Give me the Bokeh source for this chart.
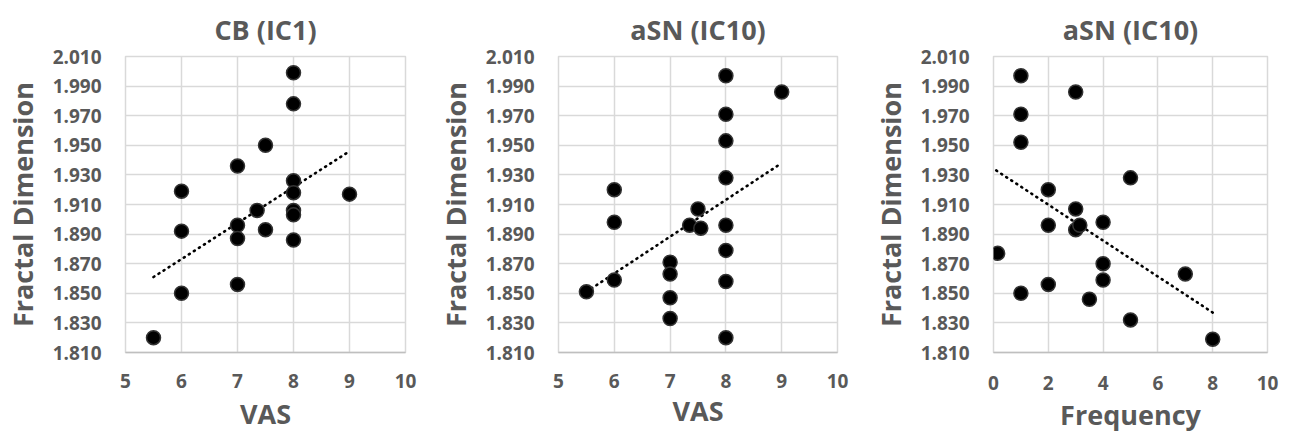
from bokeh.plotting import figure
from bokeh.layouts import row
from bokeh.models import Range1d, FixedTicker, NumeralTickFormatter
from bokeh.embed import file_html
from bokeh.resources import INLINE

# ---------------- data ----------------
y_ticks = [1.81, 1.83, 1.85, 1.87, 1.89, 1.91, 1.93, 1.95, 1.97, 1.99, 2.01]
vas_ticks = [5, 6, 7, 8, 9, 10]
freq_ticks = [0, 2, 4, 6, 8, 10]

titles = ["CB (IC1)", "aSN (IC10)", "aSN (IC10)"]
xlabels = ["VAS", "VAS", "Frequency"]

x1 = [8, 8, 7.5, 7, 6, 8, 8, 9, 7.35, 8, 8, 7, 6, 7.5, 7, 8, 7, 6, 5.5]
y1 = [1.999, 1.978, 1.950, 1.936, 1.919, 1.926, 1.918, 1.917, 1.906, 1.906,
      1.903, 1.896, 1.892, 1.893, 1.887, 1.886, 1.856, 1.850, 1.820]
trend1_x = [5.5, 9]
trend1_y = [1.861, 1.946]

x2 = [8, 9, 8, 8, 8, 6, 6, 7.5, 7.35, 7.55, 8, 8, 7, 7, 6, 8, 7, 5.5, 7, 8]
y2 = [1.997, 1.986, 1.971, 1.953, 1.928, 1.920, 1.898, 1.907, 1.896, 1.894,
      1.896, 1.879, 1.871, 1.863, 1.859, 1.858, 1.847, 1.851, 1.833, 1.820]
trend2_x = [5.5, 9]
trend2_y = [1.851, 1.938]

x3 = [1, 3, 1, 1, 5, 2, 3, 2, 3, 3.15, 4, 0.15, 4, 4, 7, 2, 1, 3.5, 5, 8]
y3 = [1.997, 1.986, 1.971, 1.952, 1.928, 1.920, 1.907, 1.896, 1.893, 1.896,
      1.898, 1.877, 1.870, 1.859, 1.863, 1.856, 1.850, 1.846, 1.832, 1.819]
trend3_x = [0.1, 8]
trend3_y = [1.933, 1.837]

FONT = "Open Sans"
TXT = "#595959"
GRID = "#d9d9d9"
H = 435


def panel(title, xlabel, xs, ys, tx, ty, xticks, xr, width, left, top, frame_h,
          frame_w, tick_stand, lab_stand):
    right = width - left - frame_w
    bottom = H - top - frame_h
    p = figure(width=width, height=H, output_backend="svg", toolbar_location=None,
               x_range=Range1d(xr[0], xr[1]), y_range=Range1d(y_ticks[0], y_ticks[-1]),
               min_border_left=left, min_border_right=right,
               min_border_top=top, min_border_bottom=bottom, title=title)
    p.background_fill_color = "white"
    p.border_fill_color = "white"
    p.outline_line_color = GRID
    p.outline_line_width = 1.5

    p.title.text_font = FONT
    p.title.text_font_size = "27px"
    p.title.text_font_style = "bold"
    p.title.text_color = TXT
    p.title.align = "center"
    p.title.standoff = 17

    p.xaxis.ticker = FixedTicker(ticks=xticks)
    p.yaxis.ticker = FixedTicker(ticks=y_ticks)
    p.yaxis.formatter = NumeralTickFormatter(format="0.000")
    p.xgrid.ticker = FixedTicker(ticks=xticks)
    p.ygrid.ticker = FixedTicker(ticks=y_ticks)
    for g in (p.xgrid, p.ygrid):
        g.grid_line_color = GRID
        g.grid_line_width = 1.5

    for ax in (p.xaxis, p.yaxis):
        ax.major_tick_line_color = None
        ax.minor_tick_line_color = None
        ax.major_tick_in = 0
        ax.major_tick_out = 0
        ax.major_label_text_font = FONT
        ax.major_label_text_font_size = "19px"
        ax.major_label_text_font_style = "bold"
        ax.major_label_text_color = TXT
        ax.axis_label_text_font = FONT
        ax.axis_label_text_font_size = "27px"
        ax.axis_label_text_font_style = "bold"
        ax.axis_label_text_color = TXT
    p.yaxis.axis_line_color = None
    p.xaxis.axis_line_color = "#bfbfbf"
    p.xaxis.axis_line_width = 1.5
    p.yaxis.major_label_standoff = 24
    p.xaxis.major_label_standoff = tick_stand
    p.yaxis.axis_label = "Fractal Dimension"
    p.yaxis.axis_label_standoff = 9
    p.xaxis.axis_label = xlabel
    p.xaxis.axis_label_standoff = lab_stand

    p.line(tx, ty, line_color="black", line_width=2.6, line_dash="1 5",
           line_cap="round")
    p.scatter(xs, ys, size=14, fill_color="black", line_color="#333333",
              line_width=1.5)
    return p


p1 = panel(titles[0], xlabels[0], x1, y1, trend1_x, trend1_y, vas_ticks, (5, 10),
           430, 124, 55, 298, 281, 21, 4)
p2 = panel(titles[1], xlabels[1], x2, y2, trend2_x, trend2_y, vas_ticks, (5, 10),
           432, 128, 55, 301, 279, 21, 1)
p3 = panel(titles[2], xlabels[2], x3, y3, trend3_x, trend3_y, freq_ticks, (0, 10),
           430, 131, 52, 300, 274, 23, 3)

layout = row(p1, p2, p3, spacing=0)
open("out.html", "w").write(file_html(layout, INLINE))
